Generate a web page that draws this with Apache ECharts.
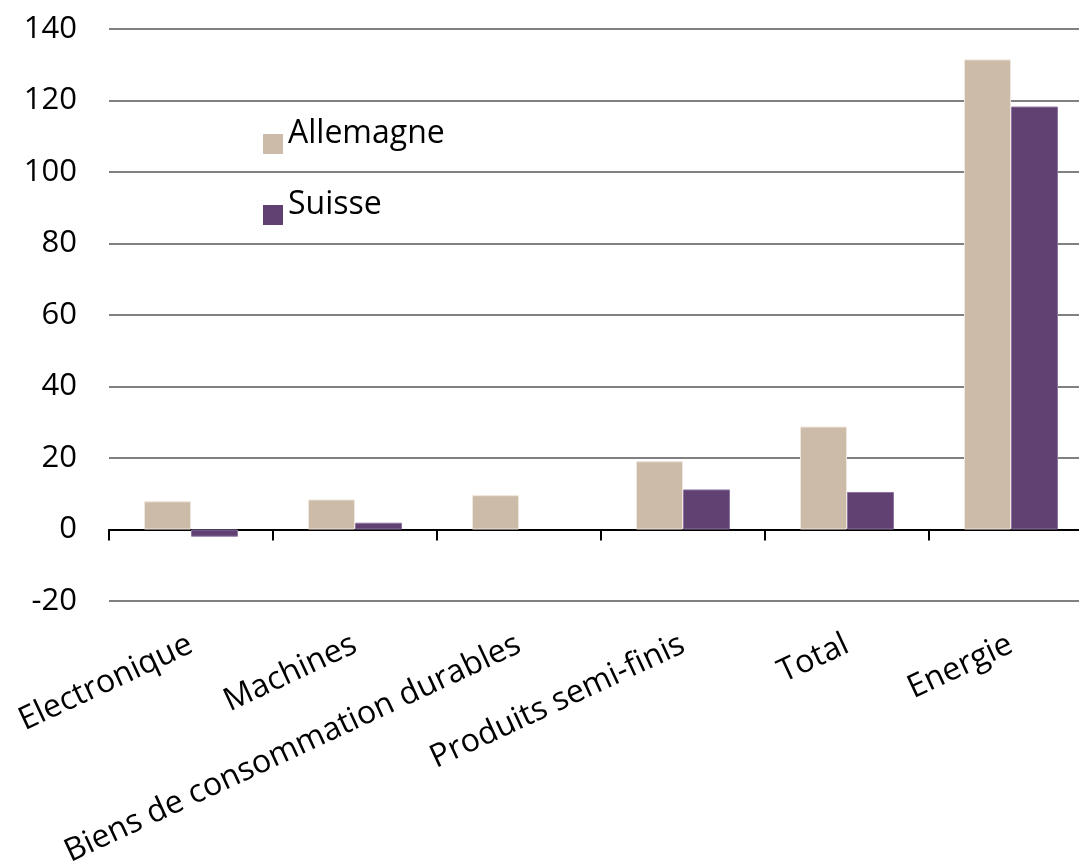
<!DOCTYPE html>
<html>
<head>
<meta charset="utf-8">
<script src="https://cdn.jsdelivr.net/npm/echarts@6/dist/echarts.min.js"></script>
<style>html,body{margin:0;padding:0;background:#fff}#c{width:1079px;height:866px}</style>
</head>
<body>
<div id="c"></div>
<script>
const categories = ["Electronique", "Machines", "Biens de consommation durables", "Produits semi-finis", "Total", "Energie"];
const allemagne = [7.9, 8.4, 9.6, 19.1, 28.8, 131.5];
const suisse = [-2.0, 1.9, null, 11.2, 10.5, 118.3];
const seriesNames = ["Allemagne", "Suisse"];
const yTicks = { min: -20, max: 140, interval: 20 };

const FONT = '"Open Sans", "Noto Sans", sans-serif';
const chart = echarts.init(document.getElementById('c'));
chart.setOption({
  animation: false,
  grid: { left: 109, right: -14, top: 29, bottom: 265, containLabel: false, outerBoundsMode: 'none' },
  legend: {
    orient: 'vertical', left: 263, top: 118, itemGap: 19, padding: 0,
    itemWidth: 20, itemHeight: 20, icon: 'rect', itemStyle: { borderWidth: 0 },
    formatter: '{t|{name}}',
    textStyle: {
      fontFamily: FONT, fontSize: 32, color: '#000',
      rich: { t: { fontFamily: FONT, fontSize: 32, lineHeight: 36, color: '#000', padding: [0, 0, 20, 0] } }
    },
    data: seriesNames
  },
  xAxis: {
    type: 'category', data: categories,
    axisLine: { onZero: true, lineStyle: { color: '#000', width: 2 } },
    axisTick: { show: true, length: 11, lineStyle: { color: '#000', width: 2 } },
    axisLabel: { rotate: 25, interval: 0, fontFamily: FONT, fontSize: 32, color: '#000', margin: 42 }
  },
  yAxis: {
    type: 'value', min: yTicks.min, max: yTicks.max, interval: yTicks.interval,
    axisLine: { show: false }, axisTick: { show: false },
    axisLabel: { fontFamily: FONT, fontSize: 31, color: '#000', margin: 32 },
    splitLine: { lineStyle: { color: '#808080', width: 2 } }
  },
  series: [
    { name: seriesNames[0], type: 'bar', data: allemagne, barWidth: 47, barGap: '0%',
      itemStyle: { color: '#CDBBA9', borderColor: '#EFE6DC', borderWidth: 1 } },
    { name: seriesNames[1], type: 'bar', data: suisse, barWidth: 47,
      itemStyle: { color: '#604172', borderColor: '#8E74A0', borderWidth: 1 } }
  ]
});
</script>
</body>
</html>
